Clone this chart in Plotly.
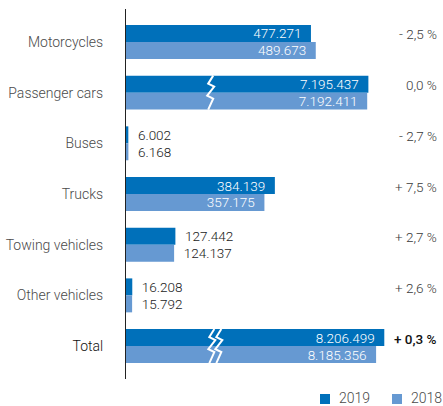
import plotly.graph_objects as go

# ---------------- data ----------------
categories = ["Motorcycles", "Passenger cars", "Buses", "Trucks",
              "Towing vehicles", "Other vehicles", "Total"]
values_2019 = [477271, 7195437, 6002, 384139, 127442, 16208, 8206499]
values_2018 = [489673, 7192411, 6168, 357175, 124137, 15792, 8185356]
# amount cut out of the bars that are drawn with an axis break
break_offset = [0, 6570000, 0, 0, 0, 0, 7540000]
# number of zig-zag break lines drawn on each bar pair
break_lines = [0, 1, 0, 0, 0, 0, 2]
# where the break mark sits (value on the shortened scale)
break_at = [0, 225000, 0, 0, 0, 0, 237000]
label_inside = [True, True, False, True, False, False, True]
series_names = ["2019", "2018"]

# ---------------- styling ----------------
C2019 = "#0070BA"
C2018 = "#6699D2"
FONT = "Roboto"
W, H = 443, 406
ML, MR, MT, MB = 126, 0, 9, 27
XMAX = 818000
YPAD = 0.65
BARGAP = 0.33


def fmt(v):
    return f"{v:,}".replace(",", ".")


def pct(a, b):
    p = round((a - b) / b * 100, 1)
    s = f"{abs(p):.1f}".replace(".", ",")
    sign = "+ " if p > 0 else ("- " if p < 0 else "")
    return f"{sign}{s} %"


n = len(categories)
ypos = list(range(n))
NB = "\u00a0\u00a0"


def bar_text(vals):
    out = []
    for v, ins in zip(vals, label_inside):
        out.append(fmt(v) + NB if ins else NB + fmt(v))
    return out


colors = [C2019, C2018]
fig = go.Figure()
for name, vals, col in zip(series_names, [values_2019, values_2018], colors):
    disp = [v - o for v, o in zip(vals, break_offset)]
    fig.add_trace(go.Bar(
        y=ypos, x=disp, orientation="h", name=name,
        marker=dict(color=col, line=dict(width=0)),
        text=bar_text(vals),
        textposition=["inside" if i else "outside" for i in label_inside],
        insidetextanchor="end",
        insidetextfont=dict(color="white", size=13.5, family=FONT, weight=300),
        outsidetextfont=dict(color="#1a1a1a", size=13.5, family=FONT, weight=300),
        constraintext="none", cliponaxis=False,
        hoverinfo="skip", showlegend=False,
    ))

# zig-zag break marks
plot_w = W - ML - MR
plot_h = H - MT - MB
ux = XMAX / plot_w                 # data units per pixel (x)
uy = (n - 1 + 2 * YPAD) / plot_h   # data units per pixel (y)
zig = [(0, 0), (-5, 8), (1, 11), (-6, 20), (0, 23), (-5, 34)]
for i in range(n):
    for k in range(break_lines[i]):
        x0 = break_at[i] + (k * 7 - (break_lines[i] - 1) * 3.5) * ux
        ytop = i - (1 - BARGAP) / 2
        xs = [x0 + dx * ux for dx, dy in zig]
        ys = [ytop + dy * uy for dx, dy in zig]
        fig.add_trace(go.Scatter(x=xs, y=ys, mode="lines",
                                 line=dict(color="white", width=2),
                                 showlegend=False, hoverinfo="skip"))

# percentage change annotations
for i in range(n):
    last = categories[i] == "Total"
    fig.add_annotation(
        x=1, xref="paper", xanchor="right", xshift=-4,
        y=i - (1 - BARGAP) / 4, yref="y", yanchor="middle", yshift=-1,
        text=pct(values_2019[i], values_2018[i]), showarrow=False,
        font=dict(family=FONT, size=13.5,
                  color="#111111" if last else "#3a3a3a",
                  weight=500 if last else 300),
    )

# custom legend (square swatch + label), positioned in pixels
def px_x(p):
    return (p - ML) / plot_w


def px_y(p):
    return (H - MB - p) / plot_h


legend_left = [320, 392]
for name, col, lx in zip(series_names, colors, legend_left):
    fig.add_shape(type="rect", xref="paper", yref="paper",
                  x0=px_x(lx), x1=px_x(lx + 10), y0=px_y(404), y1=px_y(394),
                  fillcolor=col, line=dict(width=0))
    fig.add_annotation(x=px_x(lx + 17), xref="paper", xanchor="left",
                       y=px_y(398), yref="paper", yanchor="middle",
                       text=name, showarrow=False,
                       font=dict(family=FONT, size=14, color="#4a4a4a", weight=300))

ticktext = [c if c != "Total" else "<span style='color:#111111'>Total</span>"
            for c in categories]

fig.update_layout(
    width=W, height=H,
    margin=dict(l=ML, r=MR, t=MT, b=MB, pad=0),
    paper_bgcolor="white", plot_bgcolor="white",
    barmode="group", bargap=BARGAP, bargroupgap=0,
    font=dict(family=FONT, size=13, color="#4a4a4a"),
    xaxis=dict(range=[0, XMAX], visible=False, fixedrange=True),
    yaxis=dict(range=[n - 1 + YPAD, -YPAD], tickvals=ypos, ticktext=ticktext,
               showgrid=False, zeroline=False, showline=True,
               linecolor="#222222", linewidth=1, ticks="",
               ticklabelstandoff=19, fixedrange=True,
               tickfont=dict(family=FONT, size=14, color="#4a4a4a", weight=300)),
    showlegend=False,
)

fig.write_html("out.html", config={"displayModeBar": False},
               post_script="document.body.style.margin='0';document.body.style.overflow='hidden';")
